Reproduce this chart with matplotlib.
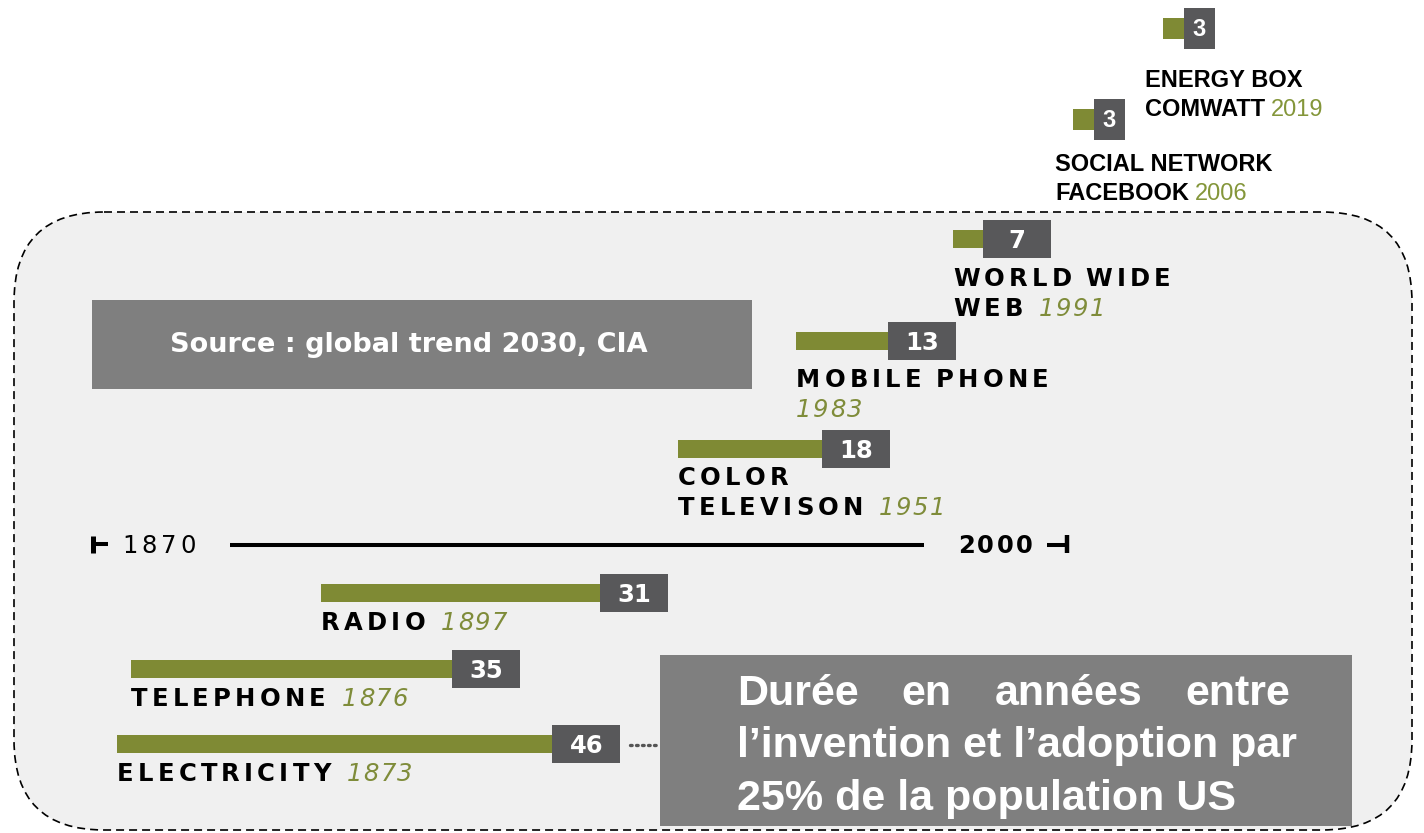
import matplotlib
matplotlib.use("Agg")
import matplotlib.pyplot as plt
from matplotlib.patches import FancyBboxPatch, Rectangle

# years between invention and adoption by 25% of the US population
label_lines = [
    ["ELECTRICITY"],
    ["TELEPHONE"],
    ["RADIO"],
    ["COLOR", "TELEVISON"],
    ["MOBILE PHONE", ""],
    ["WORLD WIDE", "WEB"],
    ["SOCIAL NETWORK", "FACEBOOK"],
    ["ENERGY BOX", "COMWATT"],
]
years = [1873, 1876, 1897, 1951, 1983, 1991, 2006, 2019]
durations = [46, 35, 31, 18, 13, 7, 3, 3]
timeline_ends = [1870, 2000]
source_note = "Source : global trend 2030, CIA"
caption_lines = [["Durée", "en", "années", "entre"],
                 ["l\u2019invention et l\u2019adoption par"],
                 ["25% de la population US"]]

# layout (pixels): left end / centre of each bar and label offsets
row_x = [117, 131, 321, 678, 796, 953, 1073, 1163]
row_y = [744, 669, 593, 449, 341, 239, 119, 28]
label_dx = [0, 0, 0, 0, 0, 0, -18, -18]
label_dy = [37, 37, 37, 36, 46, 47, 52, 59]
compact = [False] * 6 + [True] * 2

GREEN = "#7f8a34"
DARK = "#58585a"
GREY = "#7f7f7f"
YEAR_GREEN = "#7f8c3a"

W, H = 1424, 833
fig = plt.figure(figsize=(W / 100, H / 100), dpi=100)
ax = fig.add_axes([0, 0, 1, 1])
ax.set_xlim(0, W)
ax.set_ylim(H, 0)
ax.set_axis_off()
renderer = fig.canvas.get_renderer()


def width_of(t):
    return t.get_window_extent(renderer).width


def green_length(d, small):
    # bar length in pixels for a duration in years
    return 7.0 * d if small else 10.4 * d - 43


def tracked(x, y, s, track, space, **kw):
    # letter-spaced text, one glyph at a time
    for ch in s:
        if ch == " ":
            x += space
            continue
        t = ax.text(x, y, ch, ha="left", va="baseline", **kw)
        x += width_of(t) + track
    return x - track


# dashed rounded panel
ax.add_patch(FancyBboxPatch((14, 212), 1398, 618,
                            boxstyle="round,pad=0,rounding_size=90",
                            fc="#f0f0f0", ec="black", lw=1.2,
                            ls=(0, (4.8, 3))))

# source box
ax.add_patch(Rectangle((92, 300), 660, 89, fc=GREY, lw=0))
ax.text(409, 345, source_note, ha="center", va="center", color="white",
        fontsize=19.5, fontweight="bold", family="DejaVu Sans")

# timeline
ax.plot([230, 924], [545, 545], color="black", lw=2.9, solid_capstyle="butt")
ax.plot([92, 108], [544, 544], color="black", lw=2.9, solid_capstyle="butt")
ax.plot([92.5, 92.5], [536, 553], color="black", lw=3.6, solid_capstyle="butt")
ax.plot([1047, 1068], [545, 545], color="black", lw=2.9, solid_capstyle="butt")
ax.plot([1067, 1067], [535, 553], color="black", lw=3.2, solid_capstyle="butt")
tracked(122, 553, str(timeline_ends[0]), 4, 8, fontsize=17.5,
        color="black", family="DejaVu Sans")
tracked(958, 553, str(timeline_ends[1]), 2.5, 8, fontsize=17.5,
        color="black", family="DejaVu Sans", fontweight="bold")

# bars
box_right = []
for i in range(len(years)):
    x, y = row_x[i], row_y[i]
    glen = green_length(durations[i], compact[i])
    if compact[i]:
        bw, bh, gh = 31, 41, 21
        num_kw = dict(fontsize=17, family="Liberation Sans")
        cap = 0.716 * 17 * 100 / 72
    else:
        bw, bh, gh = 68, 38, 18
        num_kw = dict(fontsize=17.5, family="DejaVu Sans")
        cap = 0.729 * 17.5 * 100 / 72
    ax.add_patch(Rectangle((x, y - gh / 2), glen, gh, fc=GREEN, lw=0))
    ax.add_patch(Rectangle((x + glen, y - bh / 2), bw, bh, fc=DARK, lw=0))
    box_right.append(x + glen + bw)
    ax.text(x + glen + bw / 2, y + cap / 2, str(durations[i]), ha="center",
            va="baseline", color="white", fontweight="bold", **num_kw)

    lx = x + label_dx[i]
    ly = y + label_dy[i]
    lines = label_lines[i]
    if compact[i]:
        step = 28.5
        for j, line in enumerate(lines):
            t = ax.text(lx, ly + j * step, line, ha="left", va="baseline",
                        fontsize=17, fontweight="bold", color="black",
                        family="Liberation Sans")
            if j == len(lines) - 1:
                ax.text(lx + width_of(t) + 6, ly + j * step, str(years[i]),
                        ha="left", va="baseline", fontsize=17,
                        color="#84963a", family="Liberation Sans")
    else:
        step = 30
        for j, line in enumerate(lines):
            end = tracked(lx, ly + j * step, line, 4.2, 10, fontsize=17.5,
                          fontweight="bold", color="black",
                          family="DejaVu Sans")
            if j == len(lines) - 1:
                yx = lx if line == "" else end + 16
                tracked(yx, ly + j * step, str(years[i]), 1.5, 8,
                        fontsize=17.5, style="italic", color=YEAR_GREEN,
                        family="DejaVu Sans")

# dotted link from the electricity bar to the caption
ax.plot([box_right[0] + 10, 660], [745, 745], color="#555555", lw=2.4,
        ls=(0, (0.5, 1.3)), dash_capstyle="round")

# caption box
ax.add_patch(Rectangle((660, 655), 692, 171, fc=GREY, lw=0))
cap_kw = dict(fontsize=31, fontweight="bold", color="white",
              family="Liberation Sans", va="baseline", ha="left")
baselines = [705, 757, 810]
x0, x1 = 737, 1290
words = [ax.text(x0, baselines[0], w, **cap_kw) for w in caption_lines[0]]
widths = [width_of(t) for t in words]
gap = (x1 - x0 - sum(widths)) / (len(words) - 1)
cx = x0
for t, w in zip(words, widths):
    t.set_x(cx)
    cx += w + gap
for line, b in zip(caption_lines[1:], baselines[1:]):
    ax.text(x0, b, line[0], **cap_kw)

fig.savefig("out.png", dpi=100, facecolor="white")
